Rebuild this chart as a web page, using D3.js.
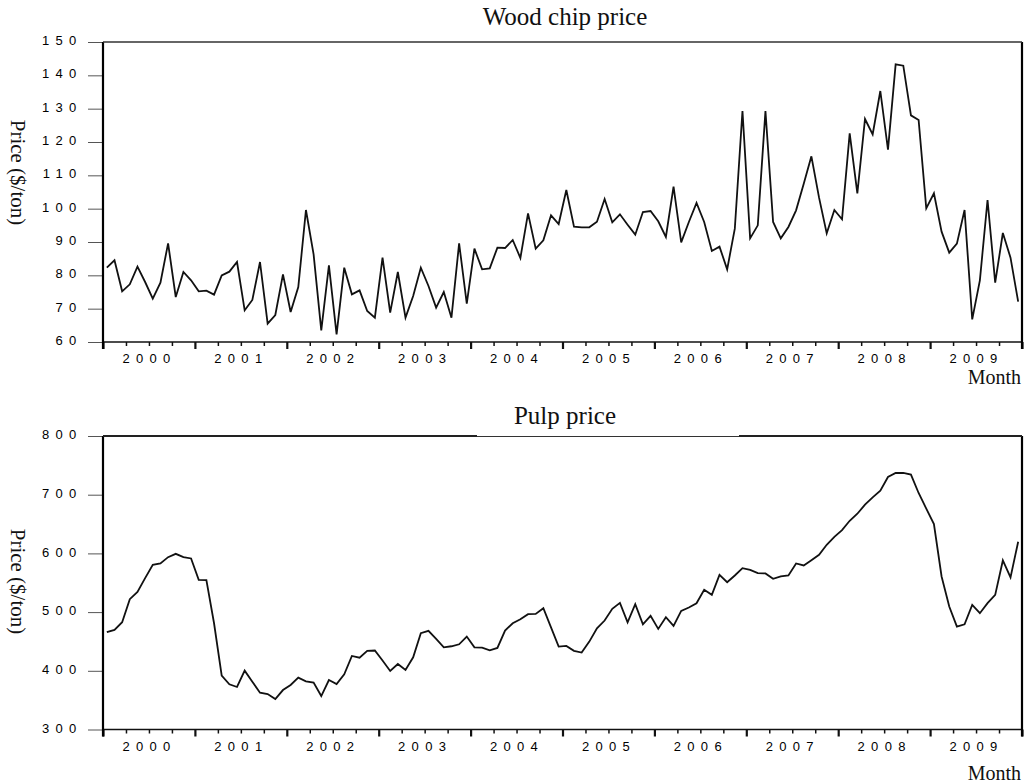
<!DOCTYPE html>
<html>
<head>
<meta charset="utf-8">
<script src="https://cdn.jsdelivr.net/npm/d3@7"></script>
<style>
  html, body { margin: 0; padding: 0; background: #fff; }
  svg { display: block; }
</style>
</head>
<body>
<svg id="chart" width="1026" height="784"></svg>
<script>
// ---------------- data ----------------
const startYear = 2000;
const yearLabels = ["2000","2001","2002","2003","2004","2005","2006","2007","2008","2009"];
const woodTicks = [60,70,80,90,100,110,120,130,140,150];
const pulpTicks = [300,400,500,600,700,800];

const woodChip = [
  82.3, 84.5, 75.2, 77.3, 82.6, 78.0, 73.0, 77.8, 89.6, 73.5, 81.0, 78.5,
  75.2, 75.4, 74.2, 80.0, 81.1, 84.0, 69.5, 72.6, 84.0, 65.5, 68.1, 80.3,
  69.0, 76.5, 99.6, 86.3, 63.5, 83.0, 62.3, 82.3, 74.3, 75.5, 69.3, 67.3,
  85.3, 68.8, 81.0, 67.3, 73.8, 82.3, 76.8, 70.3, 75.0, 67.3, 89.6, 71.5,
  88.0, 81.8, 82.1, 88.3, 88.2, 90.6, 85.2, 98.6, 88.0, 90.5, 98.0, 95.4,
  105.6, 94.6, 94.4, 94.4, 96.1, 102.9, 95.9, 98.3, 95.2, 92.2, 99.0, 99.3,
  96.2, 91.5, 106.6, 89.9, 96.0, 101.7, 96.0, 87.3, 88.6, 81.8, 94.0, 129.3,
  91.1, 95.0, 129.3, 96.0, 91.1, 94.5, 99.5, 107.5, 115.7, 103.3, 92.6, 99.6,
  96.8, 122.6, 104.6, 126.9, 122.3, 135.3, 117.7, 143.3, 142.9, 128.0, 126.6, 100.1,
  104.6, 93.1, 86.8, 89.5, 99.6, 66.8, 78.5, 102.6, 77.8, 92.7, 85.3, 72.1
];

const pulp = [
  465.7, 469.7, 482.7, 522.0, 534.5, 557.8, 580.6, 582.8, 593.6, 599.3, 593.6, 591.4,
  555.0, 554.4, 481.0, 391.7, 377.0, 372.4, 400.3, 381.5, 362.7, 360.4, 351.9, 367.2,
  375.8, 388.3, 382.0, 379.8, 357.0, 384.3, 377.5, 394.0, 425.3, 422.4, 434.0, 434.6,
  417.5, 399.8, 411.6, 401.4, 423.0, 464.0, 468.0, 454.3, 440.0, 441.8, 445.2, 458.3,
  440.0, 439.5, 435.0, 439.0, 468.5, 481.0, 487.8, 496.4, 497.0, 506.6, 474.0, 441.2,
  442.3, 434.0, 431.0, 449.7, 472.5, 485.6, 505.5, 515.7, 482.7, 513.4, 479.3, 493.6,
  471.4, 491.3, 476.5, 502.0, 507.8, 515.0, 537.9, 529.4, 563.5, 551.0, 562.4, 574.9,
  572.0, 566.4, 565.8, 556.7, 560.7, 562.4, 582.8, 579.4, 588.5, 597.6, 614.7, 628.3,
  639.7, 655.6, 667.6, 683.0, 695.5, 706.9, 730.2, 737.0, 737.0, 734.2, 702.9, 676.2,
  650.0, 560.7, 509.5, 475.3, 479.3, 512.3, 498.1, 515.2, 529.4, 588.0, 559.0, 619.8
];

// ---------------- drawing ----------------
const svg = d3.select("#chart");
const nMonths = 120;
const x = d3.scaleLinear().domain([0, nMonths]).range([103, 1022]);
const quarterTicks = d3.range(0, nMonths + 1, 3);
const midYears = yearLabels.map((d, i) => i * 12 + 6);

const tickFont = "'Liberation Sans', Arial, sans-serif";
const serif = "'Liberation Serif', 'Times New Roman', serif";

function panel(cfg) {
  const { values, ticks, domain, yTop, yBot, title, titleY, ylabelY, monthY, topGaps } = cfg;
  const y = d3.scaleLinear().domain(domain).range([yBot, yTop]);
  const g = svg.append("g");

  // Y axis ticks and labels
  const yAxis = d3.axisLeft(y).tickValues(ticks).tickSize(15).tickPadding(0)
    .tickFormat(d3.format("d"));
  const ya = g.append("g").attr("transform", `translate(${x.range()[0]},0)`).call(yAxis);
  ya.select(".domain").remove();
  ya.selectAll(".tick line").attr("stroke", "#555").attr("stroke-width", 1);
  ya.selectAll(".tick text")
    .attr("x", -20.5)
    .attr("dy", "0.2em")
    .style("font-family", tickFont)
    .style("font-size", "13px")
    .style("letter-spacing", "6.3px")
    .attr("fill", "#000");

  // X axis quarter ticks
  const xAxis = d3.axisBottom(x).tickValues(quarterTicks)
    .tickSizeInner(4).tickSizeOuter(0).tickFormat("");
  const xa = g.append("g").attr("transform", `translate(0,${yBot})`).call(xAxis);
  xa.select(".domain").remove();
  xa.selectAll(".tick line")
    .attr("stroke", "#111")
    .attr("y2", d => d % 12 === 0 ? 7 : 4)
    .attr("stroke-width", d => d % 12 === 0 ? 2.2 : 1.5);

  // Year labels
  const xl = d3.axisBottom(x).tickValues(midYears).tickSize(0).tickPadding(0)
    .tickFormat((d, i) => yearLabels[i]);
  const xla = g.append("g").attr("transform", `translate(0,${yBot})`).call(xl);
  xla.select(".domain").remove();
  xla.selectAll(".tick text")
    .attr("y", 21)
    .attr("dy", 0)
    .style("font-family", tickFont)
    .style("font-size", "13px")
    .style("letter-spacing", "6.3px")
    .attr("fill", "#000");

  // Frame
  const [x0, x1] = x.range();
  g.append("line").attr("x1", x0).attr("x2", x1).attr("y1", yBot).attr("y2", yBot)
    .attr("stroke", "#111").attr("stroke-width", 1.5);
  g.append("line").attr("x1", x0).attr("x2", x0).attr("y1", yTop).attr("y2", yBot + 7)
    .attr("stroke", "#000").attr("stroke-width", 2.2);
  g.append("line").attr("x1", x1).attr("x2", x1).attr("y1", yTop).attr("y2", yBot + 7)
    .attr("stroke", "#000").attr("stroke-width", 2.2);
  if (topGaps) {
    g.append("line").attr("x1", x0).attr("x2", topGaps[0]).attr("y1", yTop).attr("y2", yTop)
      .attr("stroke", "#222").attr("stroke-width", 2.2);
    g.append("line").attr("x1", topGaps[0]).attr("x2", topGaps[1]).attr("y1", yTop + 0.5).attr("y2", yTop + 0.5)
      .attr("stroke", "#333").attr("stroke-width", 1);
    g.append("line").attr("x1", topGaps[1]).attr("x2", x1).attr("y1", yTop).attr("y2", yTop)
      .attr("stroke", "#222").attr("stroke-width", 2.2);
  } else {
    g.append("line").attr("x1", x0).attr("x2", x1).attr("y1", yTop).attr("y2", yTop)
      .attr("stroke", "#333").attr("stroke-width", 1.3);
  }

  // Data line
  const line = d3.line().x((d, i) => x(i + 0.5)).y(d => y(d));
  g.append("path").datum(values).attr("d", line)
    .attr("fill", "none").attr("stroke", "#111").attr("stroke-width", 1.8)
    .attr("stroke-linejoin", "miter");

  // Title
  g.append("text").attr("x", 565).attr("y", titleY).attr("text-anchor", "middle")
    .style("font-family", serif).style("font-size", "25px").attr("fill", "#111")
    .text(title);

  // Y label
  g.append("text")
    .attr("transform", `translate(17.5,${ylabelY}) rotate(90)`)
    .attr("text-anchor", "middle").attr("dominant-baseline", "central")
    .style("font-family", serif).style("font-size", "21px").attr("fill", "#111")
    .text("Price ($/ton)");

  // X label
  g.append("text").attr("x", 1021).attr("y", monthY).attr("text-anchor", "end")
    .style("font-family", serif).style("font-size", "20px").attr("fill", "#111")
    .text("Month");
}

panel({
  values: woodChip, ticks: woodTicks, domain: [60, 150],
  yTop: 42, yBot: 342, title: "Wood chip price", titleY: 25,
  ylabelY: 172.5, monthY: 384, topGaps: null
});

panel({
  values: pulp, ticks: pulpTicks, domain: [300, 800],
  yTop: 436, yBot: 729.5, title: "Pulp price", titleY: 424,
  ylabelY: 581.5, monthY: 780, topGaps: [477, 739]
});
</script>
</body>
</html>
